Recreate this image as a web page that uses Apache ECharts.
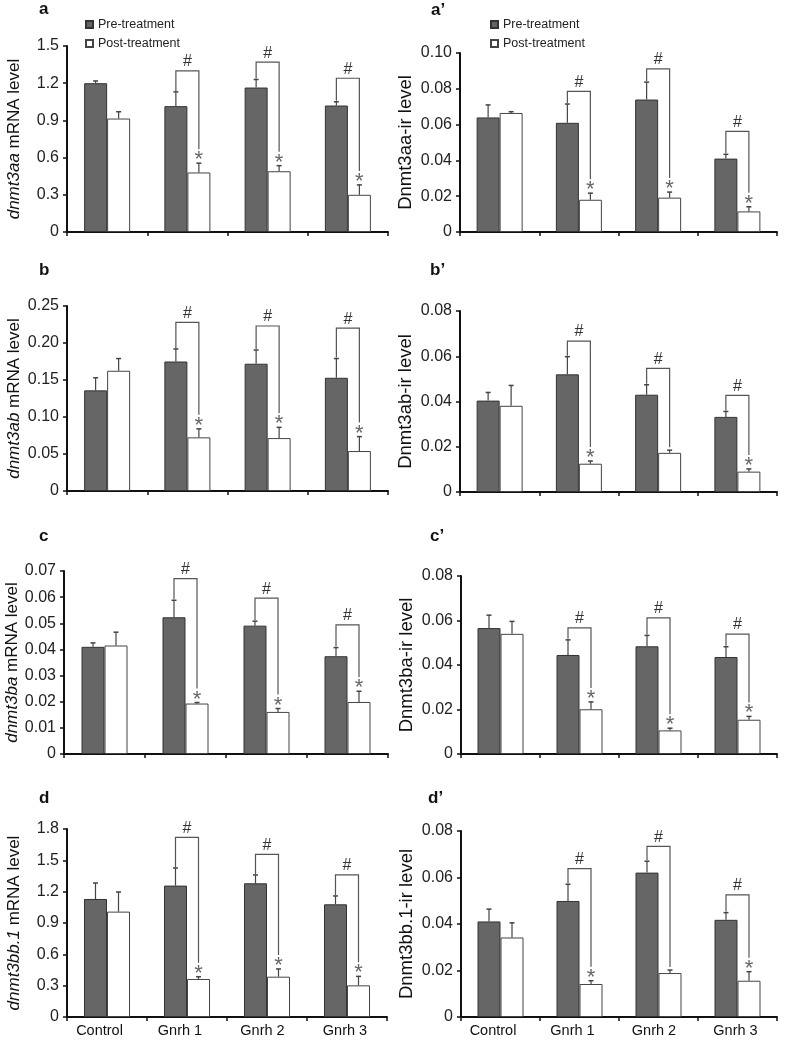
<!DOCTYPE html>
<html><head><meta charset="utf-8">
<script src="https://cdn.jsdelivr.net/npm/echarts@6/dist/echarts.min.js"></script>
<style>html,body{margin:0;padding:0;background:#fff}#c{width:787px;height:1040px}</style>
</head><body><div id="c"></div><script>
const categories = ['Control', 'Gnrh 1', 'Gnrh 2', 'Gnrh 3'];
const seriesNames = ['Pre-treatment', 'Post-treatment'];

// a: dnmt3aa mRNA
const aPre = [1.20, 1.015, 1.165, 1.02];
const aPreSE = [0.018, 0.115, 0.065, 0.03];
const aPost = [0.915, 0.48, 0.49, 0.30];
const aPostSE = [0.055, 0.075, 0.045, 0.08];
const aBracket = [null, 1.30, 1.37, 1.24];
const aStar = [0, 1, 1, 1];
const aTicks = ['0', '0.3', '0.6', '0.9', '1.2', '1.5'];

// a': Dnmt3aa-ir
const apPre = [0.064, 0.061, 0.074, 0.041];
const apPreSE = [0.007, 0.0105, 0.0097, 0.0024];
const apPost = [0.0665, 0.018, 0.0192, 0.0115];
const apPostSE = [0.0007, 0.0037, 0.0031, 0.0026];
const apBracket = [null, 0.0786, 0.0911, 0.0562];
const apStar = [0, 1, 1, 1];
const apTicks = ['0', '0.02', '0.04', '0.06', '0.08', '0.10'];

// b: dnmt3ab mRNA
const bPre = [0.136, 0.175, 0.172, 0.153];
const bPreSE = [0.017, 0.017, 0.0185, 0.026];
const bPost = [0.1625, 0.0725, 0.0715, 0.054];
const bPostSE = [0.0165, 0.0115, 0.0145, 0.0195];
const bBracket = [null, 0.228, 0.223, 0.22];
const bStar = [0, 1, 1, 1];
const bTicks = ['0', '0.05', '0.10', '0.15', '0.20', '0.25'];

// b': Dnmt3ab-ir
const bpPre = [0.0404, 0.052, 0.043, 0.0332];
const bpPreSE = [0.0036, 0.0078, 0.0044, 0.0024];
const bpPost = [0.0381, 0.0125, 0.0173, 0.009];
const bpPostSE = [0.009, 0.0012, 0.0012, 0.0012];
const bpBracket = [null, 0.0667, 0.0546, 0.0427];
const bpStar = [0, 1, 0, 1];
const bpTicks = ['0', '0.02', '0.04', '0.06', '0.08'];

// c: dnmt3ba mRNA
const cPre = [0.041, 0.0523, 0.0491, 0.0374];
const cPreSE = [0.0015, 0.0065, 0.0017, 0.0033];
const cPost = [0.0415, 0.0193, 0.0161, 0.0199];
const cPostSE = [0.0051, 0.0004, 0.0013, 0.0041];
const cBracket = [null, 0.0671, 0.0596, 0.0494];
const cStar = [0, 1, 1, 1];
const cTicks = ['0', '0.01', '0.02', '0.03', '0.04', '0.05', '0.06', '0.07'];

// c': Dnmt3ba-ir
const cpPre = [0.0566, 0.0445, 0.0484, 0.0436];
const cpPreSE = [0.0058, 0.0068, 0.0049, 0.0046];
const cpPost = [0.054, 0.0201, 0.0106, 0.0154];
const cpPostSE = [0.0056, 0.0033, 0.001, 0.0015];
const cpBracket = [null, 0.0567, 0.0612, 0.0539];
const cpStar = [0, 1, 1, 1];
const cpTicks = ['0', '0.02', '0.04', '0.06', '0.08'];

// d: dnmt3bb.1 mRNA
const dPre = [1.13, 1.258, 1.28, 1.079];
const dPreSE = [0.153, 0.169, 0.08, 0.08];
const dPost = [1.009, 0.364, 0.386, 0.303];
const dPostSE = [0.188, 0.022, 0.074, 0.086];
const dBracket = [null, 1.72, 1.558, 1.36];
const dStar = [0, 1, 1, 1];
const dTicks = ['0', '0.3', '0.6', '0.9', '1.2', '1.5', '1.8'];

// d': Dnmt3bb.1-ir
const dpPre = [0.0411, 0.0499, 0.0621, 0.0418];
const dpPreSE = [0.0053, 0.0072, 0.0049, 0.0031];
const dpPost = [0.0342, 0.0142, 0.0189, 0.0156];
const dpPostSE = [0.0063, 0.0014, 0.0013, 0.0039];
const dpBracket = [null, 0.0638, 0.0734, 0.0525];
const dpStar = [0, 1, 0, 1];
const dpTicks = ['0', '0.02', '0.04', '0.06', '0.08'];

const panelLabels = ['a', 'a\u2019', 'b', 'b\u2019', 'c', 'c\u2019', 'd', 'd\u2019'];
const yNames = [
  '{i|dnmt3aa} mRNA level', 'Dnmt3aa-ir level',
  '{i|dnmt3ab} mRNA level', 'Dnmt3ab-ir level',
  '{i|dnmt3ba} mRNA level', 'Dnmt3ba-ir level',
  '{i|dnmt3bb.1} mRNA level', 'Dnmt3bb.1-ir level'
];

const panels = [
  {pre: aPre, preSE: aPreSE, post: aPost, postSE: aPostSE, br: aBracket, st: aStar, ticks: aTicks, max: 1.5, interval: 0.3},
  {pre: apPre, preSE: apPreSE, post: apPost, postSE: apPostSE, br: apBracket, st: apStar, ticks: apTicks, max: 0.10, interval: 0.02},
  {pre: bPre, preSE: bPreSE, post: bPost, postSE: bPostSE, br: bBracket, st: bStar, ticks: bTicks, max: 0.25, interval: 0.05},
  {pre: bpPre, preSE: bpPreSE, post: bpPost, postSE: bpPostSE, br: bpBracket, st: bpStar, ticks: bpTicks, max: 0.08, interval: 0.02},
  {pre: cPre, preSE: cPreSE, post: cPost, postSE: cPostSE, br: cBracket, st: cStar, ticks: cTicks, max: 0.07, interval: 0.01},
  {pre: cpPre, preSE: cpPreSE, post: cpPost, postSE: cpPostSE, br: cpBracket, st: cpStar, ticks: cpTicks, max: 0.08, interval: 0.02},
  {pre: dPre, preSE: dPreSE, post: dPost, postSE: dPostSE, br: dBracket, st: dStar, ticks: dTicks, max: 1.8, interval: 0.3},
  {pre: dpPre, preSE: dpPreSE, post: dpPost, postSE: dpPostSE, br: dpBracket, st: dpStar, ticks: dpTicks, max: 0.08, interval: 0.02}
];

// layout (pixels)
const layout = [
  {left: 67, top: 46, width: 321, height: 186, gap: 44, lx: 39, ly: 10, nfs: 17},
  {left: 460, top: 53, width: 317, height: 179, gap: 45, lx: 431, ly: 11, nfs: 18.5},
  {left: 67, top: 306, width: 321, height: 185, gap: 44, lx: 39, ly: 271, nfs: 17},
  {left: 460, top: 311, width: 317, height: 181, gap: 45, lx: 430, ly: 271, nfs: 18.5},
  {left: 64, top: 571, width: 324, height: 183, gap: 41, lx: 39, ly: 537, nfs: 17},
  {left: 461, top: 576, width: 316, height: 178, gap: 45, lx: 430, ly: 537, nfs: 18.5},
  {left: 67, top: 829, width: 320, height: 188, gap: 44, lx: 39, ly: 799, nfs: 17},
  {left: 461, top: 831, width: 316, height: 186, gap: 45, lx: 428, ly: 799, nfs: 18.5}
];
// per-label right padding (shifts centred category labels slightly left, as in the figure)
const labelPad = [15, 14, 9, 4];

const FONT = 'Liberation Sans, Arial, Helvetica, sans-serif';
const BAR_W = 23;

function errRender(params, api) {
  const i = api.value(0), m = api.value(1), se = api.value(2), side = api.value(3);
  const p0 = api.coord([i, m]);
  const p1 = api.coord([i, m + se]);
  const x = p0[0] + side * BAR_W / 2;
  return {
    type: 'group',
    children: [
      {type: 'line', shape: {x1: x, y1: p0[1], x2: x, y2: p1[1]}, style: {stroke: '#444', lineWidth: 1.2}},
      {type: 'line', shape: {x1: x - 2.5, y1: p1[1], x2: x + 2.5, y2: p1[1]}, style: {stroke: '#444', lineWidth: 1.5}}
    ]
  };
}

function bracketRender(params, api) {
  const i = api.value(0), by = api.value(1), pt = api.value(2), qt = api.value(3), st = api.value(4);
  const c = api.coord([i, by]);
  const cx = c[0], yB = c[1];
  const yP = api.coord([i, pt])[1];
  const yQ = api.coord([i, qt])[1];
  const xl = cx - BAR_W / 2, xr = cx + BAR_W / 2;
  const children = [
    {type: 'polyline', shape: {points: [[xl, yP - 1], [xl, yB], [xr, yB], [xr, yQ - (st ? 14 : 3)]]},
      style: {stroke: '#555', lineWidth: 1.2, fill: null}},
    {type: 'text', style: {x: cx, y: yB - 1, text: '#', align: 'center', verticalAlign: 'bottom',
      font: '16px ' + FONT, fill: '#333'}}
  ];
  if (st) {
    children.push({type: 'text', style: {x: xr, y: yQ - 3, text: '*', align: 'center', verticalAlign: 'middle',
      font: '22px ' + FONT, fill: '#666'}});
  }
  return {type: 'group', children: children};
}

const catRich = {};
labelPad.forEach((pd, i) => { catRich['c' + i] = {padding: [0, pd, 0, 0], fontSize: 14.5, color: '#111', fontFamily: FONT}; });

const grid = [], xAxis = [], yAxis = [], series = [], graphic = [];
panels.forEach((p, k) => {
  const L = layout[k];
  const bottomRow = k >= 6;
  grid.push({left: L.left, top: L.top, width: L.width, height: L.height, containLabel: false});
  xAxis.push({
    type: 'category', gridIndex: k, data: categories,
    axisLine: {lineStyle: {color: '#111', width: 2}},
    axisTick: {show: true, interval: 0, length: 4, lineStyle: {color: '#111', width: 1.5}},
    axisLabel: {show: bottomRow, interval: 0, hideOverlap: false, fontSize: 14.5, color: '#111', fontFamily: FONT, margin: 6,
      formatter: (v, idx) => '{c' + idx + '|' + v + '}', rich: catRich}
  });
  yAxis.push({
    type: 'value', gridIndex: k, min: 0, max: p.max, interval: p.interval,
    name: yNames[k], nameLocation: 'middle', nameGap: L.gap, nameRotate: 90,
    nameTextStyle: {fontSize: L.nfs, color: '#111', fontFamily: FONT,
      rich: {i: {fontStyle: 'italic', fontSize: L.nfs, color: '#111', fontFamily: FONT}}},
    axisLine: {show: true, lineStyle: {color: '#111', width: 2}},
    axisTick: {show: true, length: 4, lineStyle: {color: '#111', width: 1.5}},
    splitLine: {show: false},
    axisLabel: {fontSize: 16, color: '#222', fontFamily: FONT, margin: 8,
      formatter: (v) => p.ticks[Math.round(v / p.interval)]}
  });
  series.push({
    name: seriesNames[0], type: 'bar', xAxisIndex: k, yAxisIndex: k, data: p.pre,
    barWidth: BAR_W, barGap: '0%',
    itemStyle: {color: '#666666', borderColor: '#333', borderWidth: 1}
  });
  series.push({
    name: seriesNames[1], type: 'bar', xAxisIndex: k, yAxisIndex: k, data: p.post,
    barWidth: BAR_W, barGap: '0%',
    itemStyle: {color: '#ffffff', borderColor: '#444', borderWidth: 1}
  });
  const errRows = [];
  categories.forEach((c, i) => {
    errRows.push([i, p.pre[i], p.preSE[i], -1]);
    errRows.push([i, p.post[i], p.postSE[i], 1]);
  });
  series.push({type: 'custom', xAxisIndex: k, yAxisIndex: k, renderItem: errRender, data: errRows, z: 5, clip: false, silent: true});
  const brRows = [];
  categories.forEach((c, i) => {
    if (p.br[i] != null) brRows.push([i, p.br[i], p.pre[i] + p.preSE[i], p.post[i] + p.postSE[i], p.st[i]]);
  });
  series.push({type: 'custom', xAxisIndex: k, yAxisIndex: k, renderItem: bracketRender, data: brRows, z: 6, clip: false, silent: true});
  graphic.push({type: 'text', left: L.lx, top: L.ly - 9,
    style: {text: panelLabels[k], font: 'bold 17px ' + FONT, fill: '#111'}});
});

const legendBase = {
  orient: 'vertical', icon: 'rect', itemWidth: 7, itemHeight: 7, itemGap: 6,
  selectedMode: false, data: seriesNames,
  textStyle: {fontSize: 12.5, color: '#222', fontFamily: FONT}
};

const chart = echarts.init(document.getElementById('c'), null, {renderer: 'canvas', width: 787, height: 1040});
chart.setOption({
  backgroundColor: '#ffffff',
  animation: false,
  legend: [
    Object.assign({}, legendBase, {left: 80, top: 13}),
    Object.assign({}, legendBase, {left: 485, top: 13})
  ],
  grid: grid, xAxis: xAxis, yAxis: yAxis, series: series, graphic: graphic
});
</script></body></html>
